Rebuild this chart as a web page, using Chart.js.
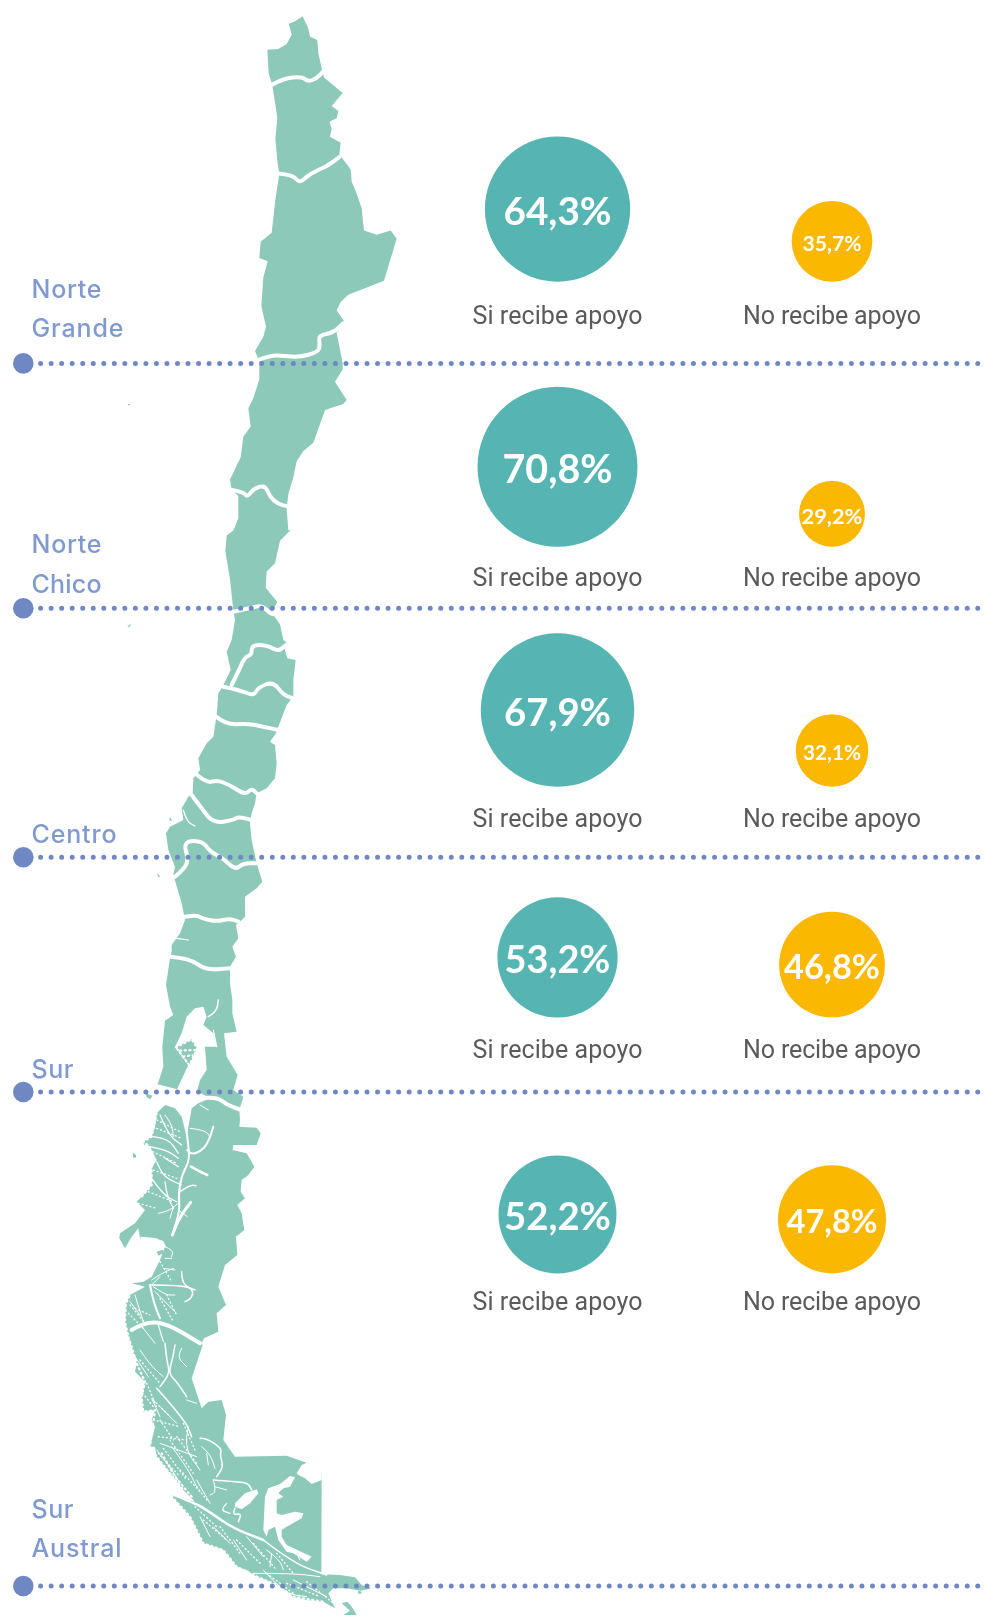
<!DOCTYPE html>
<html>
<head>
<meta charset="utf-8">
<script src="https://cdn.jsdelivr.net/npm/chart.js@4"></script>
<style>
  html, body { margin: 0; padding: 0; background: #fff; }
  canvas { display: block; }
</style>
</head>
<body>
<canvas id="apoyo-chart" width="985" height="1616"></canvas>
<script>
// datos
const regiones = ['Norte Grande', 'Norte Chico', 'Centro', 'Sur', 'Sur Austral'];
const respuestas = ['Si recibe apoyo', 'No recibe apoyo'];
const siRecibe = [64.3, 70.8, 67.9, 53.2, 52.2];
const noRecibe = [35.7, 29.2, 32.1, 46.8, 47.8];

// layout (pixeles de la pagina)
const columnas = [557.5, 832];
const baseFilas = [281.7, 546.8, 786.8, 1017.6, 1273.4];
const baseTexto = [323.5, 585.5, 826.7, 1057.7, 1310];
const separadores = [363.4, 608.3, 857.3, 1092, 1586];
const etiquetaLineas = [[298, 336.7], [553, 592.6], [842.7], [1078], [1517.7, 1556.7]];
const anchoSi = [108, 110, 107, 106, 107];
const anchoNo = [59, 61, 58, 96, 91];
const radioPorPunto = 1.13;

// mapa trazado a mano; cada zona tiene su escala y origen
const zonas = {
  a: [1 / 2.45, 0, 0],
  b: [1 / 3, 0, 600],
  d: [1 / 3, 110, 1095],
  e: [1 / 3, 120, 1340]
};
const contorno = [
  ['a', [908,40, 925,70, 930,90, 952,98, 955,130, 967,175, 972,190, 1028,228, 995,260, 1015,272, 1010,290, 988,298, 995,315, 990,335, 1022,350, 1018,378, 1052,415, 1055,445, 1068,470, 1085,510, 1092,565, 1130,575, 1172,565, 1190,585, 1152,688, 1045,722, 1022,740, 1010,760, 1035,790, 1010,815, 1028,890, 1028,905, 1005,935, 1040,980, 1030,990, 990,1000, 975,1005, 955,1050, 940,1085, 910,1105, 890,1130, 880,1170, 865,1210, 860,1245, 865,1300, 873,1298, 840,1325, 825,1380, 800,1400, 797,1440, 832,1475, 815,1500, 840,1530, 850,1568]],
  ['b', [858,125, 855,150, 862,175, 887,180, 880,240, 880,290, 860,315, 835,380, 828,400, 810,425, 825,435, 830,490, 825,535, 800,565, 770,580, 765,610, 755,640, 750,670, 755,720, 770,790, 787,845, 770,865, 735,890, 735,950, 720,965, 708,975, 715,1015, 697,1040, 708,1070, 690,1100, 690,1150, 697,1200, 697,1240, 710,1295, 672,1300, 680,1370, 713,1425, 700,1470, 730,1490, 718,1530, 720,1560]],
  ['d', [388,95, 440,98, 452,115, 440,150, 370,150, 368,165, 410,175, 433,215, 415,240, 395,255, 392,290, 405,310, 382,330, 395,355, 403,405, 378,425, 382,480, 345,510, 325,575, 348,630, 320,655, 325,710, 282,730, 275,745]],
  ['e', [248,15, 215,115, 240,190, 245,205, 265,185, 305,180, 318,225, 310,300, 345,350, 500,347, 560,368, 605,390, 604,703, 660,705, 705,712, 725,735, 755,745, 722,752, 680,745, 640,745, 625,760, 645,805, 610,785, 560,780, 520,770, 470,735, 400,705, 380,690, 350,680, 330,655, 310,630, 250,610, 210,530, 145,458, 225,485, 190,450, 150,400, 110,350, 105,320, 90,320, 105,260, 95,240, 105,210, 70,215, 65,170, 75,125, 45,95, 50,70, 30,5]],
  ['d', [60,745, 45,680, 48,625, 60,600, 105,575, 65,565, 100,560, 125,545, 150,495, 165,455, 140,430, 90,430, 85,400, 65,425, 45,460, 28,430, 30,415, 75,385, 105,345, 80,320, 95,305, 125,270, 125,220, 140,195, 120,155, 100,140, 125,125, 135,95, 140,55, 165,30, 195,40, 215,65, 230,125, 245,40, 265,25, 300,10]],
  ['b', [595,1475, 540,1470, 473,1453, 490,1400, 487,1340, 495,1262, 520,1245, 510,1220, 498,1155, 510,1075, 515,1055, 515,1035, 540,1000, 555,960, 545,910, 520,825, 525,800, 505,750, 498,700, 510,680, 550,660, 545,625, 565,590, 578,580, 580,535, 600,510, 595,475, 620,430, 640,410, 650,345, 655,280, 665,265, 675,245, 692,210, 680,155, 695,120, 705,60, 700,30]],
  ['a', [700,1495, 690,1420, 676,1350, 680,1312, 700,1300, 715,1270, 715,1215, 695,1200, 690,1175, 722,1120, 730,1070, 752,1045, 745,1000, 760,975, 778,930, 778,885, 765,860, 790,825, 798,800, 784,750, 790,680, 803,640, 778,632, 782,592, 815,570, 826,490, 838,425, 832,395, 826,340, 832,290, 825,250, 816,205, 806,180, 802,122, 835,120, 860,108, 875,85, 866,58, 885,52]]
];
const islas = [
  ['b', [437,1480, 458,1487, 450,1497, 440,1492]],
  ['b', [470,820, 480,828, 476,833]],
  ['b', [510,650, 516,662, 508,662]],
  ['d', [68,172, 78,180, 78,188, 70,188]],
  ['d', [98,138, 106,144, 104,152]],
  ['e', [665,790, 682,785, 695,800, 710,825, 670,825, 690,812]],
  ['a', [384,990, 392,990, 386,994]],
  ['b', [382,78, 394,72, 388,82]],
  ['e', [715,752, 725,755, 722,762, 713,760]]
];
// limites regionales, golfos y lagos en blanco
const limites = [
  ['a', [815,208, 850,192, 905,188, 925,200, 950,192, 970,175]],
  ['a', [835,425, 880,428, 898,450, 930,425, 980,408, 1018,385]],
  ['a', [780,880, 815,870, 850,872, 900,875, 955,862, 960,845, 955,822, 1000,815, 1030,792]],
  ['a', [692,1200, 730,1205, 742,1218, 760,1198, 795,1188, 810,1218, 835,1235, 860,1240]],
  ['b', [700,35, 750,25, 785,15, 815,45, 838,40]],
  ['b', [695,255, 715,215, 735,170, 755,165, 755,135, 800,135, 835,155, 858,135]],
  ['b', [670,260, 720,270, 760,288, 775,262, 820,245, 850,285, 880,295]],
  ['b', [648,350, 680,375, 740,370, 790,380, 835,390]],
  ['b', [585,520, 620,550, 650,540, 690,555, 735,585, 755,565, 770,580]],
  ['b', [575,585, 605,625, 640,670, 700,660, 715,650, 755,660]],
  ['b', [525,830, 555,805, 565,775, 553,740, 565,722, 610,725, 630,755, 670,775, 705,810, 730,790, 770,790]],
  ['b', [555,950, 590,945, 605,955, 650,965, 690,955, 715,965]],
  ['b', [510,1070, 570,1075, 615,1110, 690,1105]],
  ['b', [600,1495, 650,1490, 680,1515, 725,1530]]
];
const golfos = [
  ['b', [560,1250, 585,1225, 610,1220, 620,1250, 610,1275, 640,1300, 650,1340, 615,1340, 620,1410, 600,1440, 590,1480, 530,1470, 565,1395, 525,1340, 545,1300]],
  ['e', [530,400, 545,375, 560,368, 620,390, 605,395, 605,420, 575,432, 555,415, 535,405]],
  ['e', [345,490, 375,460, 410,448, 415,460, 390,490, 365,508, 345,500]],
  ['e', [430,570, 435,470, 445,445, 480,432, 510,408, 525,412, 510,440, 490,445, 475,460, 490,470, 470,480, 470,520, 485,525, 525,515, 550,520, 545,535, 500,560, 485,570, 485,590, 500,615, 575,650, 560,665, 520,640, 500,635, 475,600, 465,560, 445,570, 440,590]],
  ['d', [90,425, 130,428, 160,438, 168,455, 150,462, 130,445, 100,440]]
];
const islotes = [
  ['b', [528,1342, 575,1318, 592,1345, 568,1395]],
  ['d', [140,470, 158,464, 160,474, 146,482]]
];
// canales: [grosor, zona, puntos]
const canales = [
  [2, 'd', [310,95, 295,145, 270,170, 245,178, 232,165]],
  [2, 'd', [225,60, 232,130, 240,195, 215,240, 205,300, 210,345, 190,410]],
  [2.5, 'd', [243,215, 270,230, 292,240]],
  [1, 'd', [240,100, 285,105, 300,125]],
  [1, 'd', [270,30, 295,45]],
  [3, 'd', [187,420, 200,385, 215,360, 225,345, 242,322]],
  [1.5, 'd', [210,290, 240,270, 258,272]],
  [1, 'd', [205,345, 232,365]],
  [1.2, 'd', [150,60, 175,120, 215,150]],
  [1.2, 'd', [130,125, 175,130, 205,175]],
  [1.2, 'd', [120,155, 170,165, 205,190]],
  [1.2, 'd', [165,190, 205,215]],
  [1.2, 'd', [140,200, 155,235, 180,255, 215,270]],
  [1.2, 'd', [125,250, 160,300, 200,320]],
  [1.2, 'd', [165,260, 170,300, 190,340]],
  [1, 'd', [145,355, 175,350, 210,320]],
  [1, 'd', [180,370, 190,335]],
  [1, 'd', [165,60, 185,85, 190,125]],
  [1, 'd', [165,455, 190,465, 185,485]],
  [1, 'd', [165,490, 185,490]],
  [1, 'd', [160,520, 195,525]],
  [1, 'd', [125,555, 155,535, 190,520]],
  [1.5, 'd', [215,530, 215,565, 250,585, 245,610, 225,620]],
  [1.5, 'd', [120,570, 215,570, 255,585]],
  [1, 'd', [130,575, 165,600, 195,600]],
  [2, 'd', [120,570, 130,620, 150,670]],
  [1, 'd', [75,600, 100,680]],
  [1, 'd', [60,620, 90,660]],
  [1, 'd', [135,590, 195,650]],
  [1, 'd', [150,545, 125,570]],
  [4, 'd', [65,705, 105,680, 170,685, 270,745]],
  [1.2, 'd', [145,690, 160,740]],
  [1, 'd', [100,700, 135,745]],
  [1.5, 'e', [135,10, 140,60, 150,100, 120,140]],
  [1.5, 'e', [165,15, 160,50, 145,100, 170,125, 200,170]],
  [1, 'e', [185,25, 170,50, 200,80]],
  [1, 'e', [60,30, 90,75, 130,110]],
  [1, 'e', [45,50, 85,110]],
  [1.5, 'e', [110,145, 195,240, 215,290]],
  [1, 'e', [95,175, 120,230]],
  [1, 'e', [120,200, 170,250]],
  [1, 'e', [200,180, 230,190]],
  [1.5, 'e', [240,295, 260,295, 305,325, 300,345, 310,380, 290,410]],
  [1, 'e', [245,320, 270,340, 285,385]],
  [1, 'e', [260,340, 265,375]],
  [1.5, 'e', [280,420, 350,425, 385,430, 395,450]],
  [1, 'e', [285,440, 320,450]],
  [1, 'e', [280,420, 290,455, 270,465]],
  [1, 'e', [205,260, 190,320, 240,390]],
  [1, 'e', [155,320, 200,380, 230,440]],
  [1, 'e', [110,330, 150,380, 180,430]],
  [1, 'e', [120,310, 230,350]],
  [1.5, 'e', [345,505, 335,525, 365,520, 355,545]],
  [1.2, 'e', [320,490, 300,510, 330,520]],
  [2.5, 'e', [145,458, 225,490, 260,510, 340,565, 430,600]],
  [1.5, 'e', [430,600, 520,670, 620,705]],
  [1, 'e', [530,640, 540,660]],
  [1, 'e', [440,630, 480,660, 490,690]],
  [1, 'e', [455,640, 450,680]],
  [1, 'e', [400,700, 520,700, 600,710]],
  [1, 'e', [240,530, 270,590]],
  [1, 'e', [280,560, 330,610]],
  [1, 'e', [340,600, 380,660]],
  [1, 'e', [380,590, 430,650]],
  [1, 'e', [430,690, 490,760, 560,770]],
  [1, 'e', [520,720, 620,770]],
  [1, 'e', [200,480, 250,500]],
  [1, 'e', [230,420, 270,490]],
  [1.2, 'b', [550,630, 560,665, 585,678]],
  [1.5, 'b', [625,1250, 650,1235, 655,1200]],
  [1.2, 'b', [640,1290, 650,1340]],
  [1.2, 'b', [530,1015, 565,1020]]
];
// borde recortado de los archipielagos
const bordes = [
  ['d', [140,55, 125,125, 100,140, 120,155, 125,220, 125,270, 95,305]],
  ['d', [60,745, 45,680, 48,625, 60,600]],
  ['e', [30,5, 50,70, 75,125, 65,170, 70,215, 105,210, 90,320, 110,350, 150,400, 190,450]],
  ['e', [145,458, 210,530, 250,610, 310,630, 350,680, 400,705, 470,735, 520,770, 610,785]],
  ['e', [125,340, 165,410, 215,470]],
  ['b', [528,1342, 575,1318, 592,1345, 568,1395, 528,1342]],
  ['b', [540,1352, 585,1350]],
  ['b', [550,1370, 578,1365]]
];
// textura fina de islas y fiordos
const texturas = [
  ['d', [130,70, 210,110]], ['d', [140,100, 215,130]], ['d', [128,170, 200,205]], ['d', [130,225, 200,250]],
  ['d', [115,290, 190,320]], ['d', [85,325, 140,340]], ['d', [60,630, 110,690]], ['d', [75,640, 120,660]],
  ['d', [55,655, 100,700]], ['d', [150,610, 190,680]], ['d', [170,600, 200,660]], ['d', [150,500, 185,560]],
  ['e', [60,60, 120,130]], ['e', [80,130, 110,200]], ['e', [100,240, 180,260]], ['e', [115,290, 200,300]],
  ['e', [115,340, 180,410]], ['e', [130,325, 200,420]], ['e', [150,300, 220,400]], ['e', [170,290, 230,370]],
  ['e', [180,390, 245,460]], ['e', [100,180, 150,230]], ['e', [60,150, 100,200]], ['e', [225,500, 290,560]],
  ['e', [250,540, 320,600]], ['e', [300,560, 360,640]], ['e', [350,600, 420,670]], ['e', [400,610, 470,690]],
  ['e', [470,640, 520,700]], ['e', [440,700, 520,760]], ['e', [500,730, 600,770]], ['e', [560,725, 640,790]],
  ['e', [120,240, 160,300]], ['e', [190,250, 225,330]], ['e', [230,440, 260,480]]
];

function aPixel(z, arr) {
  const k = zonas[z], sx = z === 'a' ? 1 / 3 : k[0], out = [];
  for (let i = 0; i < arr.length; i += 2) out.push([arr[i] * sx + k[1], arr[i + 1] * k[0] + k[2]]);
  return out;
}
function trazar(ctx, pts, cerrar) {
  ctx.beginPath();
  pts.forEach((p, i) => i ? ctx.lineTo(p[0], p[1]) : ctx.moveTo(p[0], p[1]));
  if (cerrar) ctx.closePath();
}
// linea suavizada por puntos medios, para limites y canales
function trazarSuave(ctx, pts) {
  ctx.beginPath();
  ctx.moveTo(pts[0][0], pts[0][1]);
  for (let i = 1; i < pts.length - 1; i++) {
    ctx.quadraticCurveTo(pts[i][0], pts[i][1], (pts[i][0] + pts[i + 1][0]) / 2, (pts[i][1] + pts[i + 1][1]) / 2);
  }
  const u = pts[pts.length - 1];
  ctx.lineTo(u[0], u[1]);
}
function textoAjustado(ctx, txt, x, y, ancho) {
  ctx.letterSpacing = '0px';
  const m = ctx.measureText(txt).width;
  ctx.letterSpacing = ((ancho - m) / Math.max(txt.length - 1, 1)).toFixed(2) + 'px';
  ctx.fillText(txt, x, y);
  ctx.letterSpacing = '0px';
}

const mapaPlugin = {
  id: 'mapa',
  beforeDatasetsDraw(chart) {
    const ctx = chart.ctx;
    ctx.save();
    ctx.lineJoin = 'round';
    ctx.lineCap = 'round';
    let silueta = [];
    contorno.forEach(s => { silueta = silueta.concat(aPixel(s[0], s[1])); });
    ctx.fillStyle = '#8dc9b9';
    trazar(ctx, silueta, true);
    ctx.fill();
    islas.forEach(s => { trazar(ctx, aPixel(s[0], s[1]), true); ctx.fill(); });
    ctx.fillStyle = '#fff';
    golfos.forEach(s => { trazar(ctx, aPixel(s[0], s[1]), true); ctx.fill(); });
    ctx.fillStyle = '#8dc9b9';
    islotes.forEach(s => { trazar(ctx, aPixel(s[0], s[1]), true); ctx.fill(); });
    ctx.strokeStyle = '#fff';
    ctx.lineWidth = 4;
    limites.forEach(s => { trazarSuave(ctx, aPixel(s[0], s[1])); ctx.stroke(); });
    canales.forEach(s => { ctx.lineWidth = s[0]; trazarSuave(ctx, aPixel(s[1], s[2])); ctx.stroke(); });
    ctx.lineWidth = 2.2;
    ctx.setLineDash([1.2, 3.5]);
    bordes.forEach(s => { trazar(ctx, aPixel(s[0], s[1])); ctx.stroke(); });
    ctx.lineWidth = 1.3;
    ctx.setLineDash([1, 3]);
    texturas.forEach(s => { trazar(ctx, aPixel(s[0], s[1])); ctx.stroke(); });
    ctx.restore();

    // separadores punteados por region
    const y = chart.scales.y, x = chart.scales.x;
    ctx.save();
    ctx.strokeStyle = '#6f88c4';
    ctx.fillStyle = '#6f88c4';
    separadores.forEach(v => {
      const py = y.getPixelForValue(v);
      ctx.lineWidth = 5;
      ctx.lineCap = 'round';
      ctx.setLineDash([0, 10.53]);
      ctx.beginPath();
      ctx.moveTo(x.getPixelForValue(40.6), py);
      ctx.lineTo(x.getPixelForValue(995), py);
      ctx.stroke();
      ctx.setLineDash([]);
      ctx.beginPath();
      ctx.arc(x.getPixelForValue(23.3), py, 10.3, 0, Math.PI * 2);
      ctx.fill();
    });
    ctx.restore();
  },
  afterDatasetsDraw(chart) {
    const ctx = chart.ctx;
    ctx.save();
    ctx.textBaseline = 'alphabetic';

    // nombres de region
    ctx.fillStyle = '#809ad0';
    ctx.textAlign = 'left';
    ctx.font = '500 25px Inter';
    const anchos = { Norte: 70, Grande: 92, Chico: 70, Centro: 85, Sur: 42, Austral: 90 };
    regiones.forEach((r, i) => {
      r.split(' ').forEach((w, j) => textoAjustado(ctx, w, 31.5, etiquetaLineas[i][j], anchos[w]));
    });

    // leyenda bajo cada burbuja
    ctx.fillStyle = '#5a5a5a';
    ctx.textAlign = 'center';
    ctx.font = '400 25px Roboto';
    baseTexto.forEach(t => {
      textoAjustado(ctx, respuestas[0], columnas[0], t, 170);
      textoAjustado(ctx, respuestas[1], columnas[1], t, 178);
    });

    // porcentajes dentro de las burbujas
    ctx.fillStyle = '#ffffff';
    [[siRecibe, anchoSi], [noRecibe, anchoNo]].forEach((par, d) => {
      chart.getDatasetMeta(d).data.forEach((el, i) => {
        const txt = par[0][i].toFixed(1).replace('.', ',') + '%';
        ctx.font = '700 100px Lato';
        const size = par[1][i] / ctx.measureText(txt).width * 100;
        ctx.font = '700 ' + size.toFixed(1) + 'px Lato';
        ctx.fillText(txt, el.x, el.y + size * 0.36 + 2);
      });
    });
    ctx.restore();
  }
};

function burbujas(valores, col) {
  return valores.map((v, i) => {
    const r = v * radioPorPunto;
    return { x: col, y: baseFilas[i] - r, r: r };
  });
}

new Chart(document.getElementById('apoyo-chart').getContext('2d'), {
  type: 'bubble',
  plugins: [mapaPlugin],
  data: {
    datasets: [
      { label: respuestas[0], data: burbujas(siRecibe, columnas[0]), backgroundColor: '#56b5b3', borderWidth: 0 },
      { label: respuestas[1], data: burbujas(noRecibe, columnas[1]), backgroundColor: '#fbb800', borderWidth: 0 }
    ]
  },
  options: {
    responsive: false,
    animation: false,
    layout: { padding: 0, autoPadding: false },
    plugins: { legend: { display: false }, tooltip: { enabled: false } },
    scales: {
      x: { type: 'linear', min: 0, max: 985, display: false },
      y: { type: 'linear', min: 0, max: 1616, reverse: true, display: false }
    }
  }
});
</script>
</body>
</html>
